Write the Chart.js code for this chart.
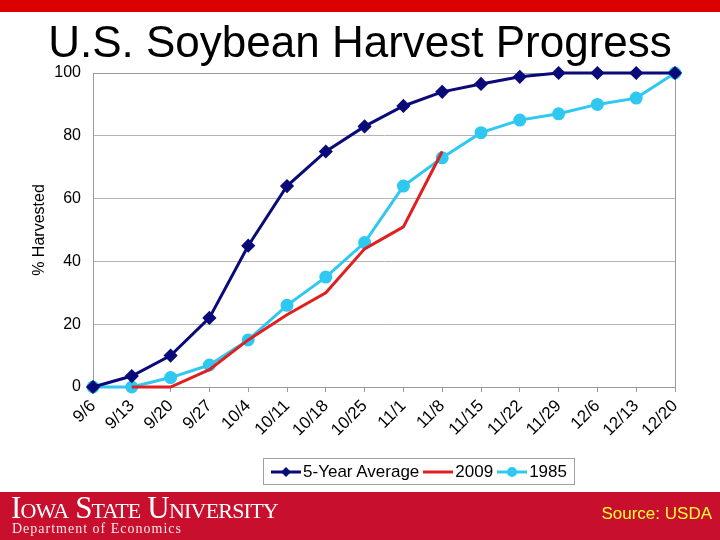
<!DOCTYPE html>
<html>
<head>
<meta charset="utf-8">
<script src="https://cdn.jsdelivr.net/npm/chart.js@4/dist/chart.umd.min.js"></script>
<style>
  body { margin: 0; width: 720px; height: 540px; position: relative; overflow: hidden; background: #fff; font-family: "Liberation Sans", Arial, sans-serif; }
  #topbar { position: absolute; left: 0; top: 0; width: 720px; height: 12px; background: #dd0000; }
  #title { position: absolute; left: 0; top: 13px; width: 720px; text-align: center; font-size: 44px; line-height: 58px; color: #000; }
  #wrap { position: absolute; left: 0; top: 0; width: 720px; height: 540px; }
  #legend { position: absolute; left: 263px; top: 458px; width: 310px; height: 25px; border: 1px solid #a0a0a0; display: flex; align-items: center; justify-content: center; font-size: 17px; gap: 4px; }
  #legend span.item { display: flex; align-items: center; gap: 2px; }
  #footer { position: absolute; left: 0; top: 492px; width: 720px; height: 48px; background: #c8102e; }
  #isu { position: absolute; left: 11px; top: -2px; color: #fff; font-family: "Liberation Serif", serif; font-size: 31px; font-variant: small-caps; letter-spacing: -0.8px; }
  #dept { position: absolute; left: 12px; top: 29px; color: #f4e6e6; font-family: "Liberation Serif", serif; font-size: 14px; letter-spacing: 1px; }
  #source { position: absolute; right: 8px; top: 12px; color: #ffff33; font-size: 17px; }
</style>
</head>
<body>
<div id="topbar"></div>
<div id="wrap"><canvas id="chart" width="720" height="540"></canvas></div>
<div id="title">U.S. Soybean Harvest Progress</div>
<div id="legend"></div>
<div id="footer">
  <div id="isu">Iowa State University</div>
  <div id="dept">Department of Economics</div>
  <div id="source">Source: USDA</div>
</div>
<script>
const weeks = ['9/6', '9/13', '9/20', '9/27', '10/4', '10/11', '10/18', '10/25', '11/1', '11/8', '11/15', '11/22', '11/29', '12/6', '12/13', '12/20'];
const fiveYearAvg = [0, 3.5, 10, 22, 45, 64, 75, 83, 89.5, 94, 96.5, 98.8, 100, 100, 100, 100];
const y2009 = [null, 0, 0, 5.5, 15, 23, 30, 44, 51, 75, null, null, null, null, null, null];
const y1985 = [0, 0, 3, 7, 15, 26, 35, 46, 64, 73, 81, 85, 87, 90, 92, 100];
const yTicks = [0, 20, 40, 60, 80, 100];

const seriesNames = ['5-Year Average', '2009', '1985'];
const seriesColors = ['#0a0a78', '#e02020', '#2ec8f0'];

// border round the plot area
const frame = {
  id: 'frame',
  beforeDatasetsDraw(chart) {
    const a = chart.chartArea, c = chart.ctx;
    c.save();
    c.strokeStyle = '#9a9a9a';
    c.lineWidth = 1;
    c.strokeRect(a.left + 0.5, a.top + 0.5, a.right - a.left, a.bottom - a.top);
    c.restore();
  }
};

const chart = new Chart(document.getElementById('chart').getContext('2d'), {
  type: 'line',
  data: {
    labels: weeks,
    datasets: [
      { label: seriesNames[0], data: fiveYearAvg, borderColor: seriesColors[0], backgroundColor: seriesColors[0],
        borderWidth: 3, pointStyle: 'rectRot', pointRadius: 5, tension: 0, clip: false },
      { label: seriesNames[1], data: y2009, borderColor: seriesColors[1], backgroundColor: seriesColors[1],
        borderWidth: 3, pointRadius: 0, tension: 0, clip: false },
      { label: seriesNames[2], data: y1985, borderColor: seriesColors[2], backgroundColor: seriesColors[2],
        borderWidth: 3, pointStyle: 'circle', pointRadius: 5, tension: 0, clip: false }
    ]
  },
  options: {
    responsive: false,
    animation: false,
    layout: { padding: { left: 30, right: 45, top: 73, bottom: 53 } },
    plugins: { legend: { display: false }, tooltip: { enabled: false }, title: { display: false } },
    scales: {
      x: {
        offset: false,
        grid: { drawOnChartArea: false, drawTicks: true, tickLength: 5, color: '#9a9a9a' },
        border: { color: '#9a9a9a' },
        ticks: { color: '#000', font: { family: 'Liberation Sans', size: 17 }, maxRotation: 45, minRotation: 45, autoSkip: false, padding: 4 },
        afterFit(scale) { scale.height = 100; }
      },
      y: {
        min: 0, max: 100,
        afterBuildTicks(scale) { scale.ticks = yTicks.map(v => ({ value: v })); },
        grid: { color: '#b4b4b4', drawTicks: false },
        border: { color: '#9a9a9a' },
        ticks: { color: '#000', font: { family: 'Liberation Sans', size: 16 }, padding: 12 },
        title: { display: true, text: '% Harvested', color: '#000', font: { family: 'Liberation Sans', size: 16 }, padding: 0 },
        afterFit(scale) { scale.width = 63; }
      }
    }
  },
  plugins: [frame]
});

// legend built from the same series
const legend = document.getElementById('legend');
seriesNames.forEach((name, i) => {
  const item = document.createElement('span');
  item.className = 'item';
  const c = document.createElement('canvas');
  c.width = 30; c.height = 14;
  const g = c.getContext('2d');
  g.strokeStyle = seriesColors[i]; g.fillStyle = seriesColors[i]; g.lineWidth = 3;
  g.beginPath(); g.moveTo(0, 7); g.lineTo(30, 7); g.stroke();
  if (i === 0) { g.beginPath(); g.moveTo(15, 2); g.lineTo(20, 7); g.lineTo(15, 12); g.lineTo(10, 7); g.closePath(); g.fill(); }
  if (i === 2) { g.beginPath(); g.arc(15, 7, 5, 0, Math.PI * 2); g.fill(); }
  item.appendChild(c);
  const t = document.createElement('span');
  t.textContent = name;
  item.appendChild(t);
  legend.appendChild(item);
});
</script>
</body>
</html>
